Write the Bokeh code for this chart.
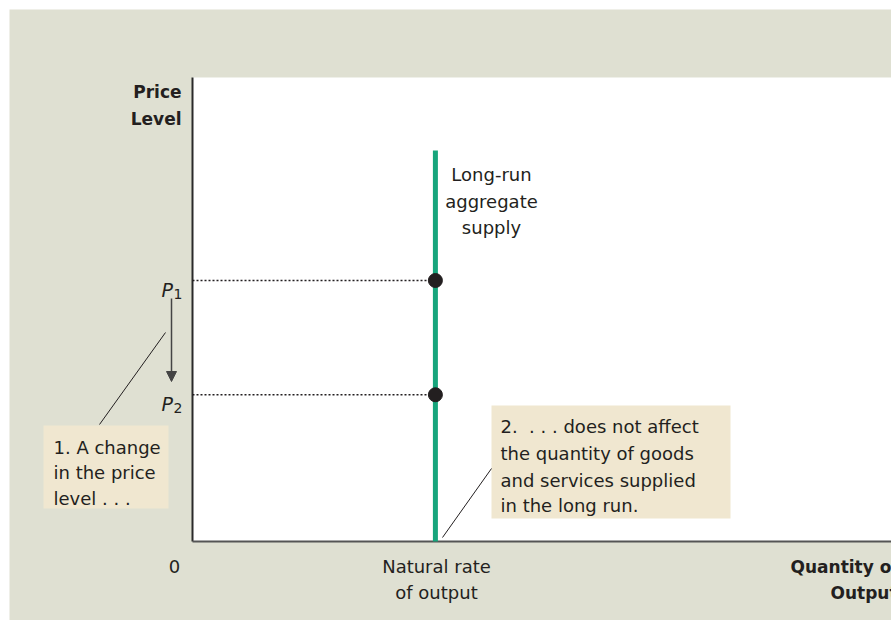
from bokeh.plotting import figure
from bokeh.models import Range1d, Label, Arrow, NormalHead
from bokeh.embed import file_html
from bokeh.resources import INLINE

# ---- chart values ----
natural_rate = [3.47]          # natural rate of output (x)
price_levels = [4.5, 2.53]     # P1, P2
price_subs = ["1", "2"]
lras_top = [6.74]              # top of the long-run aggregate supply line
x_end, y_end = 9.99, 8.0       # extent of the white plotting area

# ---- layout (image pixel -> chart units) ----
W, H = 891, 620
OX, OY = 192, 541              # image position of the origin
KX, KY = 70.0, 58.0            # pixels per chart unit


def dx(ix):
    return (ix - OX) / KX


def dy(iy):
    return (OY - iy) / KY


FONT = "DejaVu Sans"
INK = "#231f20"
GREEN = "#17a57c"
BG = "#dfe0d2"
BOXC = "#f0e7d0"

p = figure(width=W, height=H, output_backend="svg", toolbar_location=None,
           x_range=Range1d(dx(0), dx(W)), y_range=Range1d(dy(H), dy(0)),
           min_border=0)
p.axis.visible = False
p.grid.visible = False
p.outline_line_color = None
p.background_fill_color = "white"
p.border_fill_color = "white"

# grey panel and white plotting area
p.quad(left=[dx(9)], right=[dx(W)], top=[dy(9)], bottom=[dy(H)],
       fill_color=BG, line_color=None)
p.quad(left=[0], right=[x_end], top=[y_end], bottom=[0],
       fill_color="white", line_color=None)

# annotation boxes
p.quad(left=[dx(43), dx(491)], right=[dx(168), dx(730)],
       top=[dy(425), dy(405)], bottom=[dy(508), dy(518)],
       fill_color=BOXC, line_color=None)

# axes
p.segment(x0=[0], y0=[0], x1=[0], y1=[y_end], line_color="#2a2a2a", line_width=2)
p.segment(x0=[0], y0=[0], x1=[x_end], y1=[0], line_color="#555555", line_width=2)

# dotted guide lines
p.segment(x0=[0] * len(price_levels), y0=price_levels,
          x1=natural_rate * len(price_levels), y1=price_levels,
          line_color=INK, line_width=1.6, line_dash="2 2")

# LRAS
p.segment(x0=natural_rate, y0=[0], x1=natural_rate, y1=lras_top,
          line_color=GREEN, line_width=5, line_cap="butt")

# points
p.scatter(x=natural_rate * len(price_levels), y=price_levels, size=14,
          fill_color=INK, line_color=INK)

# leader lines
p.segment(x0=[dx(165), dx(491)], y0=[dy(332), dy(468)],
          x1=[dx(99), dx(442)], y1=[dy(424), dy(537)],
          line_color=INK, line_width=1)
# price change arrow
p.add_layout(Arrow(end=NormalHead(size=10, fill_color="#444444", line_color="#444444"),
                   x_start=dx(171), y_start=dy(298), x_end=dx(171), y_end=dy(381),
                   line_color="#444444", line_width=1.5))


def lab(text, ix, iy, align="left", size="18px", style="normal", color=INK):
    p.add_layout(Label(x=dx(ix), y=dy(iy), text=text, text_align=align,
                       text_baseline="alphabetic", text_font=FONT,
                       text_font_size=size, text_font_style=style, text_color=color))


# axis titles
lab("Price", 181, 91, align="right", size="17px", style="bold")
lab("Level", 181, 118, align="right", size="17px", style="bold")
lab("Quantity of", 790, 566, size="17px", style="bold")
lab("Output", 830, 592, size="17px", style="bold")
lab("0", 174, 566, align="center")
lab("Natural rate", 436, 566, align="center")
lab("of output", 436, 592, align="center")

# price labels
for pv, sub in zip(price_levels, price_subs):
    p.add_layout(Label(x=dx(161), y=pv, y_offset=-9, text="P", text_align="left",
                       text_baseline="alphabetic", text_font=FONT, text_font_size="19px",
                       text_font_style="italic", text_color=INK))
    p.add_layout(Label(x=dx(173), y=pv, y_offset=-13, text=sub, text_align="left",
                       text_baseline="alphabetic", text_font=FONT, text_font_size="14px",
                       text_color=INK))

# curve label
lab("Long-run", 491, 174, align="center")
lab("aggregate", 491, 201, align="center")
lab("supply", 491, 227, align="center")

# box texts
for t, by in zip(["1. A change", "in the price", "level . . ."], [447, 472, 498]):
    lab(t, 53, by)
for t, by in zip(["2.\u00a0\u00a0. . . does not affect", "the quantity of goods",
                  "and services supplied", "in the long run."], [426, 453, 480, 505]):
    lab(t, 500, by)

open("out.html", "w").write(file_html(p, INLINE))
